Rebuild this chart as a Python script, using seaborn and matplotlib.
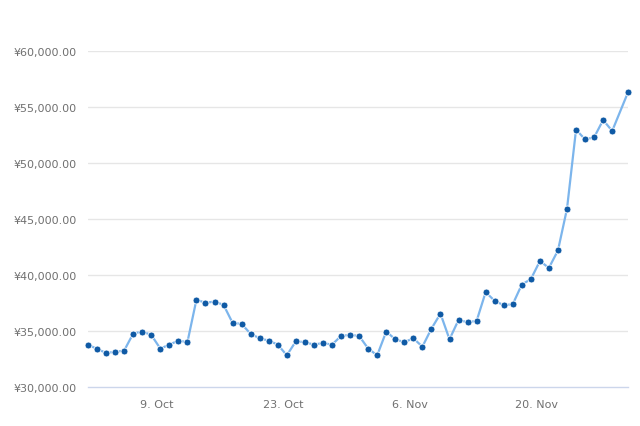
#!/usr/bin/env python3
# -*- coding: utf-8 -*-

"""Price in yen, Oct - Nov 2017, Highcharts-like line with markers."""

import pandas as pd
import matplotlib
matplotlib.use("Agg")
import matplotlib.pyplot as plt
import matplotlib.dates as mdates
from matplotlib.ticker import FuncFormatter
import seaborn as sns

# Data (one point per day, last one is a later snapshot)
prices = [
    33780, 33400, 33040, 33130, 33250, 34770, 34950, 34650, 33430, 33780,
    34140, 34000, 37800, 37510, 37630, 37330, 35720, 35630, 34740, 34350,
    34140, 33780, 32830, 34080, 34000, 33780, 33930, 33780, 34560, 34650,
    34560, 33430, 32830, 34950, 34260, 34000, 34350, 33600, 35210, 36550,
    34260, 35990, 35780, 35900, 38470, 37690, 37300, 37390, 39150, 39630,
    41240, 40640, 42190, 45910, 52980, 52110, 52290, 53840, 52860, 56310,
]
first_day = "2017-10-01 09:00"
last_stamp = "2017-11-30 03:00"
y_ticks = [30000, 35000, 40000, 45000, 50000, 55000, 60000]
x_ticks = ["2017-10-09", "2017-10-23", "2017-11-06", "2017-11-20"]

dates = list(pd.date_range(first_day, periods=len(prices) - 1, freq="D"))
dates.append(pd.Timestamp(last_stamp))
df = pd.DataFrame({"date": dates, "price": prices})

sns.set_style("white")
plt.rcParams["font.family"] = ["DejaVu Sans"]

fig = plt.figure(figsize=(6.4, 4.27), dpi=100)
ax = fig.add_axes([88 / 640, 1 - 388 / 427, 540 / 640, 336 / 427])

sns.lineplot(data=df, x="date", y="price", ax=ax, color="#7cb5ec", linewidth=1.6,
             marker="o", markersize=5, markerfacecolor="#0f5aa5",
             markeredgecolor="white", markeredgewidth=0.6, clip_on=False, zorder=3)

ax.set_xlim(df["date"].iloc[0], df["date"].iloc[-1])
ax.set_ylim(30000, 60000)

# grid
ax.set_yticks(y_ticks)
for v in y_ticks[1:]:
    ax.axhline(v, color="#e6e6e6", linewidth=1, zorder=0)
ax.yaxis.set_major_formatter(FuncFormatter(lambda v, p: f"¥{v:,.2f}"))
ax.tick_params(axis="y", length=0, pad=8, labelsize=8, labelcolor="#707070")

ax.set_xticks([pd.Timestamp(t) for t in x_ticks])
ax.xaxis.set_major_formatter(FuncFormatter(
    lambda v, p: f"{mdates.num2date(v).day}. {mdates.num2date(v).strftime('%b')}"))
ax.tick_params(axis="x", length=9, width=1, color="#ccd6eb", pad=0,
               labelsize=8, labelcolor="#707070")

for side in ["top", "right", "left"]:
    ax.spines[side].set_visible(False)
ax.spines["bottom"].set_color("#ccd6eb")
ax.spines["bottom"].set_linewidth(1)

ax.set_xlabel("")
ax.set_ylabel("")

fig.savefig("out.png", dpi=100)
